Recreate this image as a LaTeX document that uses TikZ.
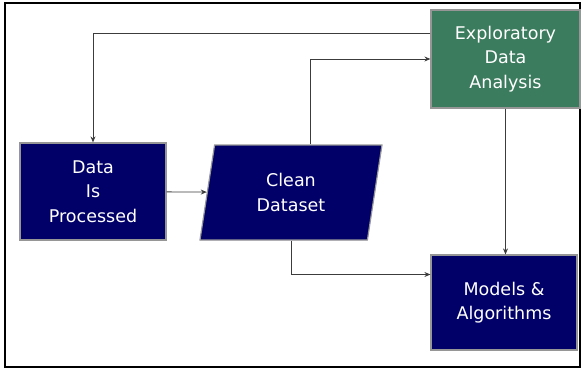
\documentclass[tikz,border=0pt]{standalone}
\usepackage{fontspec}
\setmainfont{DejaVu Sans}
\usepackage{tikz}
\usetikzlibrary{arrows.meta,positioning,shapes.geometric}
\definecolor{navycol}{RGB}{0,0,104}
\definecolor{edacol}{RGB}{60,124,94}
\definecolor{rimcol}{RGB}{150,150,150}
\definecolor{wirecol}{RGB}{60,60,60}

\begin{document}
\begin{tikzpicture}[x=1pt, y=-1pt,
  blk/.style={draw=rimcol, fill=#1, text=white, line width=1.2pt, align=center,
              inner sep=0pt, font=\fontsize{17.5}{24.5}\selectfont},
  arr/.style={-{Stealth[length=6pt,width=5pt]}, line width=0.8pt, draw=wirecol}]
  \useasboundingbox (0,0) rectangle (582,370);
  \draw[line width=1.6pt] (5,3) rectangle (580,367);
  % boxes
  \node[blk=navycol, minimum width=146pt, minimum height=97pt] (proc) at (93,191.5) {Data\\Is\\Processed};
  \node[blk=navycol, trapezium, trapezium left angle=69, trapezium right angle=111,
        trapezium stretches body, minimum width=182pt, minimum height=95pt] (clean) at (291,192.5) {Clean\\Dataset};
  \node[blk=edacol, minimum width=149pt, minimum height=98pt] (eda) at (505.5,59) {Exploratory\\Data\\Analysis};
  \node[blk=navycol, minimum width=146pt, minimum height=95pt] (models) at (504,302.5) {Models \&\\Algorithms};
  % connectors
  \draw[arr] ([yshift=26pt]eda.west) -| (proc.north);
  \draw[arr] (proc) -- (clean);
  \draw[arr] ([xshift=19pt]clean.north) |- (eda.west);
  \draw[arr] (clean.south) |- ([yshift=28pt]models.west);
  \draw[arr] (eda.south) -- (eda.south |- models.north);
\end{tikzpicture}
\end{document}
